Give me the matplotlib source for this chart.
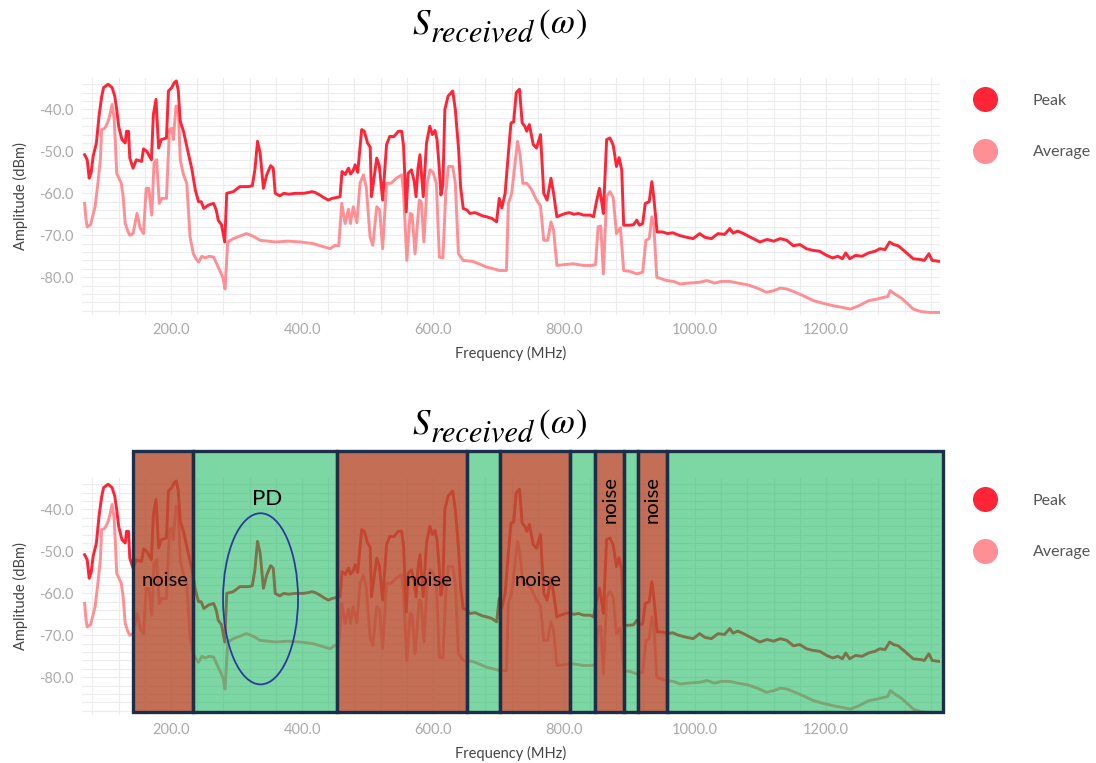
import matplotlib
matplotlib.use("Agg")
import matplotlib.pyplot as plt
from matplotlib.lines import Line2D
from matplotlib.patches import Rectangle, Ellipse
from matplotlib.ticker import MultipleLocator, FormatStrFormatter

plt.rcParams['font.family'] = ['Lato', 'DejaVu Sans']

# peak trace (MHz, dBm)
peak_f = [68, 72, 75, 78, 81, 86, 90, 94, 97, 104, 110, 114, 117, 120, 125, 130, 132, 135, 137, 142,
          147, 155, 158, 163, 170, 173, 177, 181, 185, 193, 196, 201, 205, 208, 211, 214, 219, 224, 232, 237,
          242, 246, 250, 257, 265, 269, 272, 277, 282, 285, 295, 305, 318, 324, 328, 332, 336, 341, 346, 352,
          356, 359, 366, 372, 380, 390, 402, 410, 415, 420, 427, 433, 440, 446, 453, 458, 461, 466, 469, 471,
          474, 478, 481, 485, 488, 491, 495, 500, 504, 506, 511, 514, 518, 523, 529, 534, 540, 547, 552, 555,
          559, 562, 567, 571, 574, 577, 580, 585, 590, 595, 599, 603, 606, 609, 612, 615, 618, 623, 630, 634,
          639, 642, 646, 652, 656, 664, 670, 676, 682, 690, 697, 701, 705, 710, 715, 719, 723, 727, 732, 736,
          740, 743, 747, 753, 758, 764, 769, 774, 780, 784, 789, 795, 802, 808, 815, 822, 830, 840, 845, 850,
          854, 857, 860, 865, 870, 875, 880, 884, 888, 891, 900, 906, 911, 915, 920, 924, 930, 934, 937, 942,
          950, 958, 966, 975, 985, 997, 1007, 1015, 1025, 1035, 1045, 1053, 1058, 1065, 1074, 1085, 1099, 1110, 1120, 1130,
          1140, 1150, 1160, 1170, 1180, 1190, 1201, 1210, 1218, 1225, 1230, 1236, 1245, 1255, 1265, 1275, 1282, 1290, 1297, 1303,
          1310, 1320, 1333, 1345, 1350, 1357, 1362, 1372]
peak_db = [-50.8, -52, -56.4, -55, -51.2, -48, -41.6, -37, -34.8, -34, -34.8, -36.8, -40, -44, -47.2, -48, -45.2, -45.2, -51.6, -54,
           -52, -52.4, -49.4, -50, -52, -41.2, -37.6, -49.2, -47.2, -46.8, -35.6, -34.8, -33.6, -33.2, -35.5, -42.8, -45.2, -48.8, -54.4, -59.2,
           -62, -62, -63.6, -62.8, -62.4, -64, -66.4, -67.5, -71.6, -60, -59.6, -58.4, -58.4, -58.2, -54.4, -47.6, -50.4, -58.8, -55.6, -53.4,
           -54, -60, -60.6, -60, -60.2, -60, -60, -59.8, -59.6, -59.8, -60.4, -61, -61.6, -61.2, -61, -60.8, -54.8, -55.5, -54.5, -54,
           -55.4, -54.6, -53.2, -55, -50, -44.8, -45.2, -48, -49, -60.8, -55, -51.6, -53.5, -61.6, -48.4, -46.4, -46.5, -45.2, -45.2, -48.8,
           -64.4, -55.2, -54.4, -57, -60.8, -54, -50.8, -60.8, -48, -44, -46, -45, -47.2, -53, -60.4, -58, -40, -36.8, -35.6, -40,
           -49.6, -58.4, -63.6, -64, -64.8, -64.6, -65, -65.4, -65.6, -66, -66.8, -61.2, -63.5, -60, -50.4, -43.2, -43, -36, -35.2, -43.2,
           -44, -45.2, -43.6, -48.4, -49.2, -46, -60, -61.6, -56.4, -60, -65.6, -65.2, -64.8, -64.6, -65, -64.8, -65.2, -65.2, -65.6, -61.6,
           -58.8, -61.6, -64.8, -47.2, -46.8, -48.5, -53.6, -51.5, -54.4, -67.6, -67.6, -67.5, -66.4, -67.6, -67.2, -62.4, -62, -57.2, -61, -69.2,
           -69.2, -69.6, -69.4, -70, -70.4, -70.8, -69.6, -70.5, -70.8, -69.6, -69.8, -68.4, -69.5, -69, -69.6, -70.5, -71.6, -71, -71.4, -70.8,
           -71.2, -72.5, -72.2, -73.2, -73.6, -73.8, -74.8, -75.4, -75, -75.6, -74.2, -75.6, -74.8, -75, -74.2, -73.8, -73.2, -73.4, -71.6, -72.2,
           -72.5, -73.8, -75.6, -75.8, -76, -74.4, -76, -76.2]

# average trace (MHz, dBm)
avg_f = [68, 70, 72, 77, 84, 88, 92, 94, 99, 104, 107, 110, 113, 115, 117, 124, 127, 130, 134, 137,
         142, 148, 153, 158, 162, 166, 170.5, 174, 178, 182, 186, 193, 197.5, 201, 203.5, 207.6, 211, 214, 219, 224,
         229, 234, 238, 242, 247, 252, 258, 265, 272, 279, 282.4, 286.5, 295, 305, 315, 325, 336, 348, 360, 378,
         398, 417, 430, 443, 450, 456, 460.6, 465.7, 470.8, 474, 478, 483.7, 488.5, 493.6, 498, 503.8, 508, 514, 518.5, 523,
         529, 536, 544, 552, 555, 560, 565, 568, 572.5, 579, 582, 586, 591, 595.4, 600, 605, 609.6, 615, 619.4, 623.4,
         630, 634, 638.7, 646, 660, 670, 682, 692, 702, 712, 715, 720, 725, 729, 733, 737, 743, 750, 758, 764,
         769, 775, 780, 784, 789, 800, 814, 830, 842, 848, 852, 856, 860, 865, 870, 875, 880, 886, 891, 900,
         911, 920, 925, 930, 934, 937, 941.5, 957, 967, 977, 990, 1007, 1018, 1030, 1040, 1053, 1065, 1080, 1095, 1109,
         1120, 1130, 1140, 1150, 1165, 1181, 1195, 1211, 1225, 1237, 1250, 1265, 1278, 1288, 1294, 1298, 1305, 1315, 1325, 1333,
         1345, 1358, 1372]
avg_db = [-62.4, -66, -68, -67.5, -63.2, -58, -52, -44.8, -44.5, -42.8, -41, -38.8, -42, -48, -55.2, -57.6, -61, -67.2, -69, -70,
          -69.6, -64.8, -68.4, -69.6, -58.8, -58.8, -65.2, -52.8, -52, -62.4, -61.2, -61.2, -44.8, -44.5, -47.2, -39.2, -39.5, -52, -55.6, -57.6,
          -70.4, -74.4, -75.6, -76.4, -75, -75.4, -75, -75.2, -77.6, -80, -82.8, -71.6, -70.8, -70.2, -69.6, -70.2, -71.2, -71.4, -71.6, -71.4,
          -71.6, -72, -72.6, -73.2, -72.4, -72.5, -62.4, -67.2, -63.8, -67.2, -63.2, -67, -57.6, -55.6, -58.5, -70.4, -72.4, -63.2, -64, -73.2,
          -57.6, -57.6, -56.4, -55.6, -60, -76, -64.8, -65, -74.4, -61.6, -62, -71.6, -57.6, -54.4, -55, -57.6, -75.2, -75.4, -60, -53.6,
          -53.6, -57.6, -74.4, -76, -76.2, -76.8, -77.6, -78, -78.4, -78.4, -62.4, -60, -53, -47.6, -51, -57.6, -57.6, -59, -61.6, -63,
          -71.2, -71.2, -66.8, -68.8, -77.2, -77, -76.8, -77.2, -77.2, -77, -68, -67.8, -79.2, -60.8, -59.6, -61, -69.6, -68.2, -78.4, -78.6,
          -79.2, -78.8, -71.2, -70.8, -65.6, -67.5, -80, -80.8, -81, -81.6, -81.4, -81.2, -80.8, -81.4, -81, -81, -81.4, -81.8, -82.6, -83.6,
          -83.2, -82.6, -82.8, -83.4, -84.4, -85.6, -86.2, -86.8, -87.2, -87.6, -86.8, -85.6, -85.2, -84.8, -84.6, -83.2, -84, -85, -86.4, -87.6,
          -88.2, -88.4, -88.4]

# bands drawn over the second panel
band_edges = [142.5, 234, 454, 651.4, 702, 809, 847, 891.6, 913.4, 957.7, 1379]
band_kind = ['noise', 'pd', 'noise', 'pd', 'noise', 'pd', 'noise', 'pd', 'noise', 'pd']

peak_col = '#ff2436'
avg_col = '#ff8f94'

W, H = 1096, 763
fig = plt.figure(figsize=(W / 100, H / 100), dpi=100)
ax1 = fig.add_axes([0.0748, 0.5872, 0.7829, 0.3106])
ax2 = fig.add_axes([0.0748, 0.0629, 0.7829, 0.3106])
rend = fig.canvas.get_renderer()


def title(y_px):
    # S_received(w) laid out piece by piece, baseline in pixels from the top
    yb = 1 - y_px / H
    ys = 1 - (y_px + 9) / H
    x = 412 / W
    pieces = [('S', 25, 'italic', yb, 1), ('received', 22, 'italic', ys, 5),
              ('(', 25, 'normal', yb, 0), ('ω', 25, 'italic', yb, 1), (')', 25, 'normal', yb, 0)]
    for s, size, st, y, gap in pieces:
        t = fig.text(x, y, s, fontsize=size, style=st, family='STIXGeneral', va='baseline', ha='left')
        x = (t.get_window_extent(rend).x1 + gap) / W


for ax, ty in [(ax1, 33), (ax2, 433)]:
    ax.plot(peak_f, peak_db, color=peak_col, lw=2.1, zorder=3)
    ax.plot(avg_f, avg_db, color=avg_col, lw=2.1, zorder=2)
    ax.set_xlim(64, 1374)
    ax.set_ylim(-89, -32.5)
    ax.xaxis.set_major_locator(MultipleLocator(200))
    ax.xaxis.set_minor_locator(MultipleLocator(40))
    ax.yaxis.set_major_locator(MultipleLocator(10))
    ax.yaxis.set_minor_locator(MultipleLocator(2))
    ax.xaxis.set_major_formatter(FormatStrFormatter('%.1f'))
    ax.yaxis.set_major_formatter(FormatStrFormatter('%.1f'))
    ax.grid(which='both', color='#ececec', lw=0.8)
    ax.set_axisbelow(True)
    for s in ax.spines.values():
        s.set_visible(False)
    ax.tick_params(which='both', length=0, labelsize=10.5, labelcolor='#aaaaaa', pad=6)
    ax.set_xlabel('Frequency (MHz)', fontsize=10.5, color='#444444', labelpad=6)
    ax.set_ylabel('Amplitude (dBm)', fontsize=10.5, color='#444444', labelpad=8)
    title(ty)
    hs = [Line2D([], [], ls='none', marker='o', ms=17, color=peak_col),
          Line2D([], [], ls='none', marker='o', ms=17, color=avg_col)]
    leg = ax.legend(hs, ['Peak', 'Average'], loc='upper left', bbox_to_anchor=(1.026, 0.962),
                    frameon=False, fontsize=11.5, handletextpad=2.0, labelspacing=2.35, borderaxespad=0)
    for t in leg.get_texts():
        t.set_color('#555555')

# overlay bands on lower panel
band_top = -26.1
band_bot = -88.4
for i, kind in enumerate(band_kind):
    x0 = band_edges[i]
    x1 = band_edges[i + 1]
    if kind == 'noise':
        fc = (182 / 255, 78 / 255, 48 / 255, 0.82)
    else:
        fc = (18 / 255, 182 / 255, 91 / 255, 0.55)
    ax2.add_patch(Rectangle((x0, band_bot), x1 - x0, band_top - band_bot, facecolor=fc,
                            edgecolor='#1c2e48', lw=2.4, clip_on=False, zorder=5))

ax2.add_patch(Ellipse((336.6, -61.3), 114.5, 40.8, facecolor='none', edgecolor='#2b3a9e',
                      lw=1.3, zorder=6, clip_on=False))
ax2.text(346.6, -37.6, 'PD', fontsize=16, ha='center', va='center', color='black', zorder=7)
ax2.text(190.8, -57, 'noise', fontsize=14.5, ha='center', va='center', color='black', zorder=7)
ax2.text(594, -57, 'noise', fontsize=14.5, ha='center', va='center', color='black', zorder=7)
ax2.text(760, -57, 'noise', fontsize=14.5, ha='center', va='center', color='black', zorder=7)
ax2.text(870, -37.6, 'noise', fontsize=14.5, ha='center', va='center', rotation=90, color='black', zorder=7)
ax2.text(934, -37.6, 'noise', fontsize=14.5, ha='center', va='center', rotation=90, color='black', zorder=7)

fig.savefig('out.png', dpi=100)
